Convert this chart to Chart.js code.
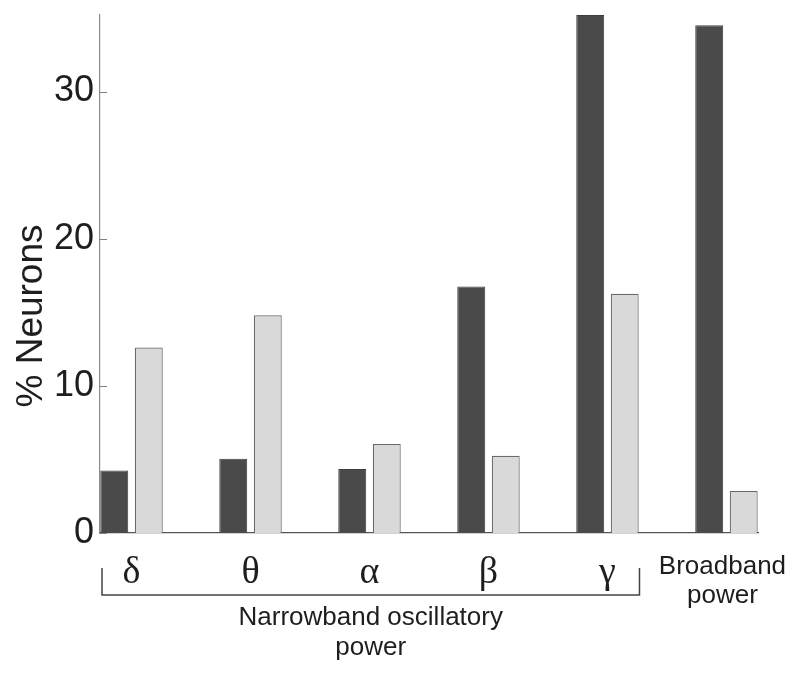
<!DOCTYPE html>
<html>
<head>
<meta charset="utf-8">
<title>% Neurons by frequency band</title>
<script src="https://cdn.jsdelivr.net/npm/chart.js@4.4.0/dist/chart.umd.min.js"></script>
<style>
  html, body { margin: 0; padding: 0; background: #fff; }
  #wrap { width: 800px; height: 678px; }
</style>
</head>
<body>
<div id="wrap"><canvas id="chart" width="800" height="678"></canvas></div>
<script>
// group labels under the axis
const bandLabels = ["δ", "θ", "α", "β", "γ"];
const broadbandLabel = ["Broadband", "power"];
const narrowbandLabel = ["Narrowband oscillatory", "power"];
const groupPositions = [1, 2, 3, 4, 5, 6];

// % neurons per group, dark and light series
const darkValues = [4.25, 5.05, 4.35, 16.75, 35.2, 34.5];
const lightValues = [12.6, 14.8, 6.05, 5.25, 16.25, 2.85];

const yTicks = [0, 10, 20, 30];
const yMax = 35.2;

const SANS = "'Liberation Sans', Arial, Helvetica, sans-serif";
const SERIF = "'Liberation Serif', 'Times New Roman', 'DejaVu Serif', serif";

Chart.defaults.font.family = SANS;

function toPoints(values) {
  return values.map((v, i) => ({ x: groupPositions[i], y: v }));
}

// labels, bracket, inward ticks and the rotated y title
const annotations = {
  id: "bandAnnotations",
  afterDraw(chart) {
    const { ctx, chartArea } = chart;
    const xs = chart.scales.x;
    const ys = chart.scales.y;
    ctx.save();

    ctx.strokeStyle = "#808080";
    ctx.lineWidth = 1;
    ys.ticks.forEach((t) => {
      const py = Math.round(ys.getPixelForValue(t.value)) + 0.5;
      ctx.beginPath();
      ctx.moveTo(chartArea.left, py);
      ctx.lineTo(chartArea.left + 7, py);
      ctx.stroke();
    });

    ctx.fillStyle = "#1e1e1e";
    ctx.textAlign = "center";
    ctx.textBaseline = "alphabetic";

    ctx.font = "38px " + SERIF;
    bandLabels.forEach((lab, i) => {
      ctx.fillText(lab, xs.getPixelForValue(groupPositions[i]), 583);
    });

    ctx.font = "26px " + SANS;
    const bx = xs.getPixelForValue(groupPositions[5]) - 4;
    ctx.fillText(broadbandLabel[0], bx, 574);
    ctx.fillText(broadbandLabel[1], bx, 603);

    // bracket under the narrowband groups
    const left = chartArea.left + 2;
    const right = xs.getPixelForValue(groupPositions[4]) + 32;
    ctx.strokeStyle = "#444";
    ctx.lineWidth = 1.5;
    ctx.beginPath();
    ctx.moveTo(left, 568);
    ctx.lineTo(left, 595);
    ctx.lineTo(right, 595);
    ctx.lineTo(right, 568);
    ctx.stroke();

    const nx = (left + right) / 2;
    ctx.fillText(narrowbandLabel[0], nx, 625);
    ctx.fillText(narrowbandLabel[1], nx, 655);

    ctx.font = "37px " + SANS;
    ctx.translate(42, 316);
    ctx.rotate(-Math.PI / 2);
    ctx.fillText("% Neurons", 0, 0);

    ctx.restore();
  },
};

new Chart(document.getElementById("chart").getContext("2d"), {
  type: "bar",
  data: {
    datasets: [
      {
        label: "dark",
        data: toPoints(darkValues),
        backgroundColor: "#4a4a4a",
        borderColor: "#3e3e3e",
        borderWidth: 1,
      },
      {
        label: "light",
        data: toPoints(lightValues),
        backgroundColor: "#d9d9d9",
        borderColor: "#6a6a6a",
        borderWidth: 1.2,
      },
    ],
  },
  options: {
    responsive: false,
    animation: false,
    barPercentage: 0.81,
    categoryPercentage: 0.58,
    layout: { padding: { top: 15, right: 42, bottom: 145, left: 0 } },
    plugins: {
      legend: { display: false },
      tooltip: { enabled: false },
    },
    scales: {
      x: {
        type: "linear",
        offset: false,
        min: 0.735,
        max: 6.265,
        grid: { display: false, drawTicks: false, offset: false },
        border: { display: true, color: "#555", width: 1.2 },
        ticks: { display: false, stepSize: 1, includeBounds: false },
        afterFit: (s) => {
          s.height = 0;
          s.paddingLeft = 0;
          s.paddingRight = 0;
        },
      },
      y: {
        min: 0,
        max: yMax,
        afterBuildTicks: (s) => {
          s.ticks = yTicks.map((v) => ({ value: v }));
        },
        grid: { display: false, drawTicks: false },
        border: { display: true, color: "#8c8c8c", width: 1.2 },
        ticks: {
          color: "#1e1e1e",
          padding: 6,
          font: { size: 36 },
        },
        afterFit: (s) => {
          s.width = 100;
          s.paddingTop = 0;
          s.paddingBottom = 0;
        },
      },
    },
  },
  plugins: [annotations],
});
</script>
</body>
</html>
